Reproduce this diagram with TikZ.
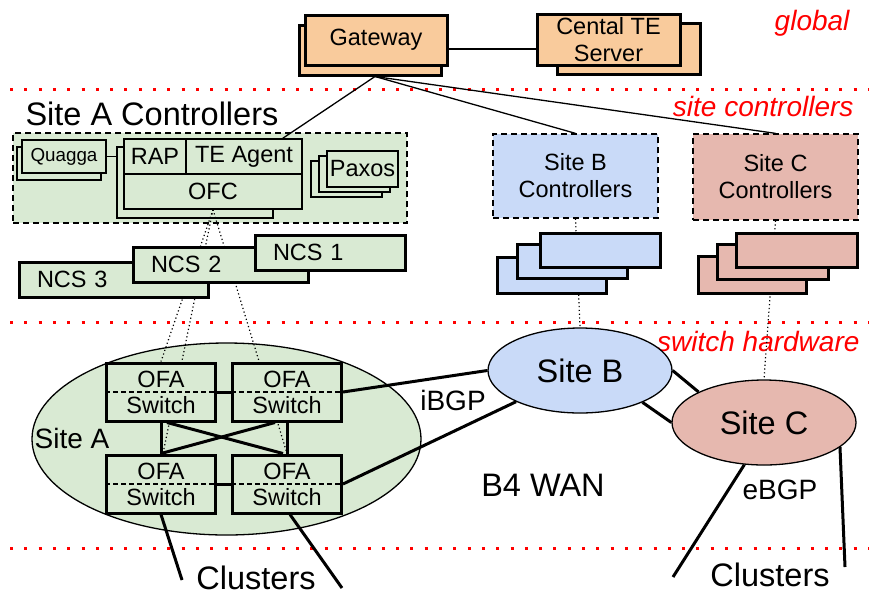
\documentclass[tikz,border=0pt]{standalone}
\usepackage{fontspec}
\setmainfont{Liberation Sans}
\usetikzlibrary{shapes.geometric}

\definecolor{org}{HTML}{F9CB9C}
\definecolor{grn}{HTML}{D9EAD3}
\definecolor{blu}{HTML}{C9DAF8}
\definecolor{pnk}{HTML}{E6B8AF}

\pgfdeclarelayer{front}
\pgfsetlayers{main,front}

\begin{document}
\begin{tikzpicture}[x=1pt,y=-1pt,
  txt/.style={font=\fontsize{23.5}{27}\selectfont},
  mid/.style={font=\fontsize{28}{32}\selectfont},
  big/.style={font=\fontsize{32.5}{36}\selectfont},
  lyr/.style={red,line width=3pt,dash pattern=on 3pt off 11.3pt},
  lyrtxt/.style={red,font=\fontsize{28}{32}\selectfont\itshape},
  hw/.style={draw,line width=3pt,inner sep=0pt},
  sw/.style={draw,line width=1.3pt,inner sep=0pt},
  ctlbox/.style={draw,line width=1.3pt,dash pattern=on 6pt off 4pt,inner sep=0pt},
  ell/.style={ellipse,draw,line width=1.3pt,inner sep=0pt},
  ncs/.style={hw,fill=grn,txt,inner xsep=18pt,align=left,minimum height=35pt},
  ofa/.style={hw,fill=grn,txt,align=center,minimum width=109pt,minimum height=58pt,
    font=\fontsize{23.5}{26}\selectfont},
  ctrl/.style={line width=1.3pt},
  lnk/.style={line width=3pt},
  ofl/.style={line width=1.2pt,dash pattern=on 1.2pt off 2.6pt}]
  \useasboundingbox (0,0) rectangle (869,595);

  % layers
  \draw[lyr] (10,89) -- (869,89);
  \draw[lyr] (10,322) -- (869,322);
  \draw[lyr] (10,548) -- (869,548);
  \node[lyrtxt,anchor=base east] (lglobal) at (853,30) {global};
  \node[lyrtxt,anchor=base east] (lsite) at (857,116) {site controllers};
  \node[lyrtxt,anchor=base east] (lswitch) at (863,351) {switch hardware};

  % global
  \node[hw,fill=org,minimum width=142pt,minimum height=50pt] (gwb) at (370,50) {};
  \node[hw,fill=org,minimum width=142pt,minimum height=50pt,txt] (gw) at (376,40) {Gateway};
  \node[hw,fill=org,minimum width=143pt,minimum height=51pt] (teb) at (628.5,48.5) {};
  \node[hw,fill=org,minimum width=143pt,minimum height=51pt,txt,align=center] (te) at (608.5,39.5) {Cental TE\\Server};
  \draw[ctrl] ([yshift=-9pt]gw.east) -- ([yshift=-9pt]gw.east -| te.west);

  % site A controllers
  \node[big,anchor=base west] (lact) at (22,125) {Site A Controllers};
  \node[ctlbox,fill=grn,minimum width=394pt,minimum height=90pt] (actl) at (210,178) {};
  \node[sw,fill=grn,minimum width=84pt,minimum height=33pt] (qgb) at (59,163.5) {};
  \node[sw,fill=grn,minimum width=84pt,minimum height=33pt,font=\fontsize{18.8}{22}\selectfont] (qg) at (64,156.5) {Quagga};
  \node[sw,fill=grn,minimum width=156pt,minimum height=71pt] (ofb) at (195,182.5) {};
  \node[sw,fill=grn,minimum width=62pt,minimum height=35pt,txt] (rap) at (155,156.5) {RAP};
  \node[sw,fill=grn,minimum width=116pt,minimum height=35pt,txt] (tea) at (244,156.5) {TE Agent};
  \node[sw,fill=grn,minimum width=178pt,minimum height=35pt,txt] (ofc) at (213,191.5) {OFC};
  \draw[ctrl] (qg.east) -- (qg.east -| ofb.west);
  \node[sw,fill=grn,minimum width=71pt,minimum height=36pt] (pxb) at (346.5,179) {};
  \node[sw,fill=grn,minimum width=71pt,minimum height=36pt] (pxm) at (354.5,174) {};
  \node[sw,fill=grn,minimum width=71pt,minimum height=36pt,txt] (px) at (362.5,169) {Paxos};

  % site B and C controllers
  \node[ctlbox,fill=blu,minimum width=165pt,minimum height=84pt,txt,align=center] (sbc) at (575.5,176) {Site B\\Controllers};
  \node[ctlbox,fill=pnk,minimum width=165pt,minimum height=86pt,txt,align=center] (scc) at (775.5,177) {Site C\\Controllers};
  \draw[ctrl] ([xshift=5pt]gwb.south) -- ([xshift=-20pt]tea.north east);
  \draw[ctrl] ([xshift=5pt]gwb.south) -- (sbc.north);
  \draw[ctrl] ([xshift=5pt]gwb.south) -- (scc.north);

  % sites
  \node[ell,fill=grn,minimum width=389pt,minimum height=192pt] (sa) at (226.5,439) {};
  \node[ell,fill=blu,minimum width=184pt,minimum height=85pt,big] (sb) at (580,370.5) {Site B};
  \node[ell,fill=pnk,minimum width=184pt,minimum height=85pt,big] (sc) at (764,422.5) {Site C};
  \node[mid] (lsa) at (72,438) {Site A};

  \begin{pgfonlayer}{front}
    \node[ncs,text width=153pt] (ncs3) at (113.5,279.5) {NCS 3};
    \node[ncs,text width=139pt] (ncs2) at (220.5,264.5) {NCS 2};
    \node[ncs,text width=114pt] (ncs1) at (330,252.5) {NCS 1};
    \node[hw,fill=blu,minimum width=109pt,minimum height=36pt] (sbk3) at (551.5,275) {};
    \node[hw,fill=blu,minimum width=110pt,minimum height=34pt] (sbk2) at (572,261) {};
    \node[hw,fill=blu,minimum width=120pt,minimum height=34pt] (sbk1) at (600,250) {};
    \node[hw,fill=pnk,minimum width=108pt,minimum height=37pt] (sck3) at (752,274.5) {};
    \node[hw,fill=pnk,minimum width=111pt,minimum height=35pt] (sck2) at (772.5,261.5) {};
    \node[hw,fill=pnk,minimum width=121pt,minimum height=34pt] (sck1) at (796.5,250) {};
    \node[ofa] (tl) at (161,392) {OFA\\Switch};
    \node[ofa] (tr) at (287,392) {OFA\\Switch};
    \node[ofa] (bl) at (161,484) {OFA\\Switch};
    \node[ofa] (br) at (287,484) {OFA\\Switch};
    \foreach \s in {tl,tr,bl,br}
      \draw[ctrl,dash pattern=on 5pt off 3pt] (\s.west) -- (\s.east);
  \end{pgfonlayer}

  % control connections
  \draw[ofl] (ofc.south) -- (tl.north);
  \draw[ofl] (ofc.south) -- ([xshift=2pt]bl.north);
  \draw[ofl] (ofc.south) -- (br.north);
  \draw[ofl] (sbc.south) -- (sb.north);
  \draw[ofl] (scc.south) -- (sc.north);

  % site A links
  \draw[lnk] (tl.east) -- (tr.west);
  \draw[lnk] (bl.east) -- (br.west);
  \draw[lnk] (tl.south) -- (bl.north);
  \draw[lnk] (tr.south) -- (br.north);
  \draw[lnk] ([xshift=6pt]tl.south) -- ([xshift=-4pt]br.north);
  \draw[lnk] ([xshift=-12pt]tr.south) -- (bl.north);

  % WAN links
  \draw[lnk] (tr.east) -- (sb.west);
  \draw[lnk] (br.east) -- (sb.206);
  \draw[lnk] (sb.east) -- (sc.155);
  \draw[lnk] (sb.-27) -- (sc.west);
  \node[mid] (ibgp) at (453,400) {iBGP};
  \node[big] (wan) at (543,485) {B4 WAN};
  \node[mid] (ebgp) at (780,490) {eBGP};

  % clusters
  \coordinate (cla1) at (182,580);
  \coordinate (cla2) at (342,588);
  \coordinate (clc1) at (673,577);
  \coordinate (clc2) at (845,567);
  \draw[lnk] (bl.south) -- (cla1);
  \draw[lnk] ([xshift=3pt]br.south) -- (cla2);
  \draw[lnk] (sc.245) -- (clc1);
  \draw[lnk] (sc.-18) -- (clc2);
  \node[big] (cla) at (256,578) {Clusters};
  \node[big] (clc) at (770,575) {Clusters};
\end{tikzpicture}
\end{document}
